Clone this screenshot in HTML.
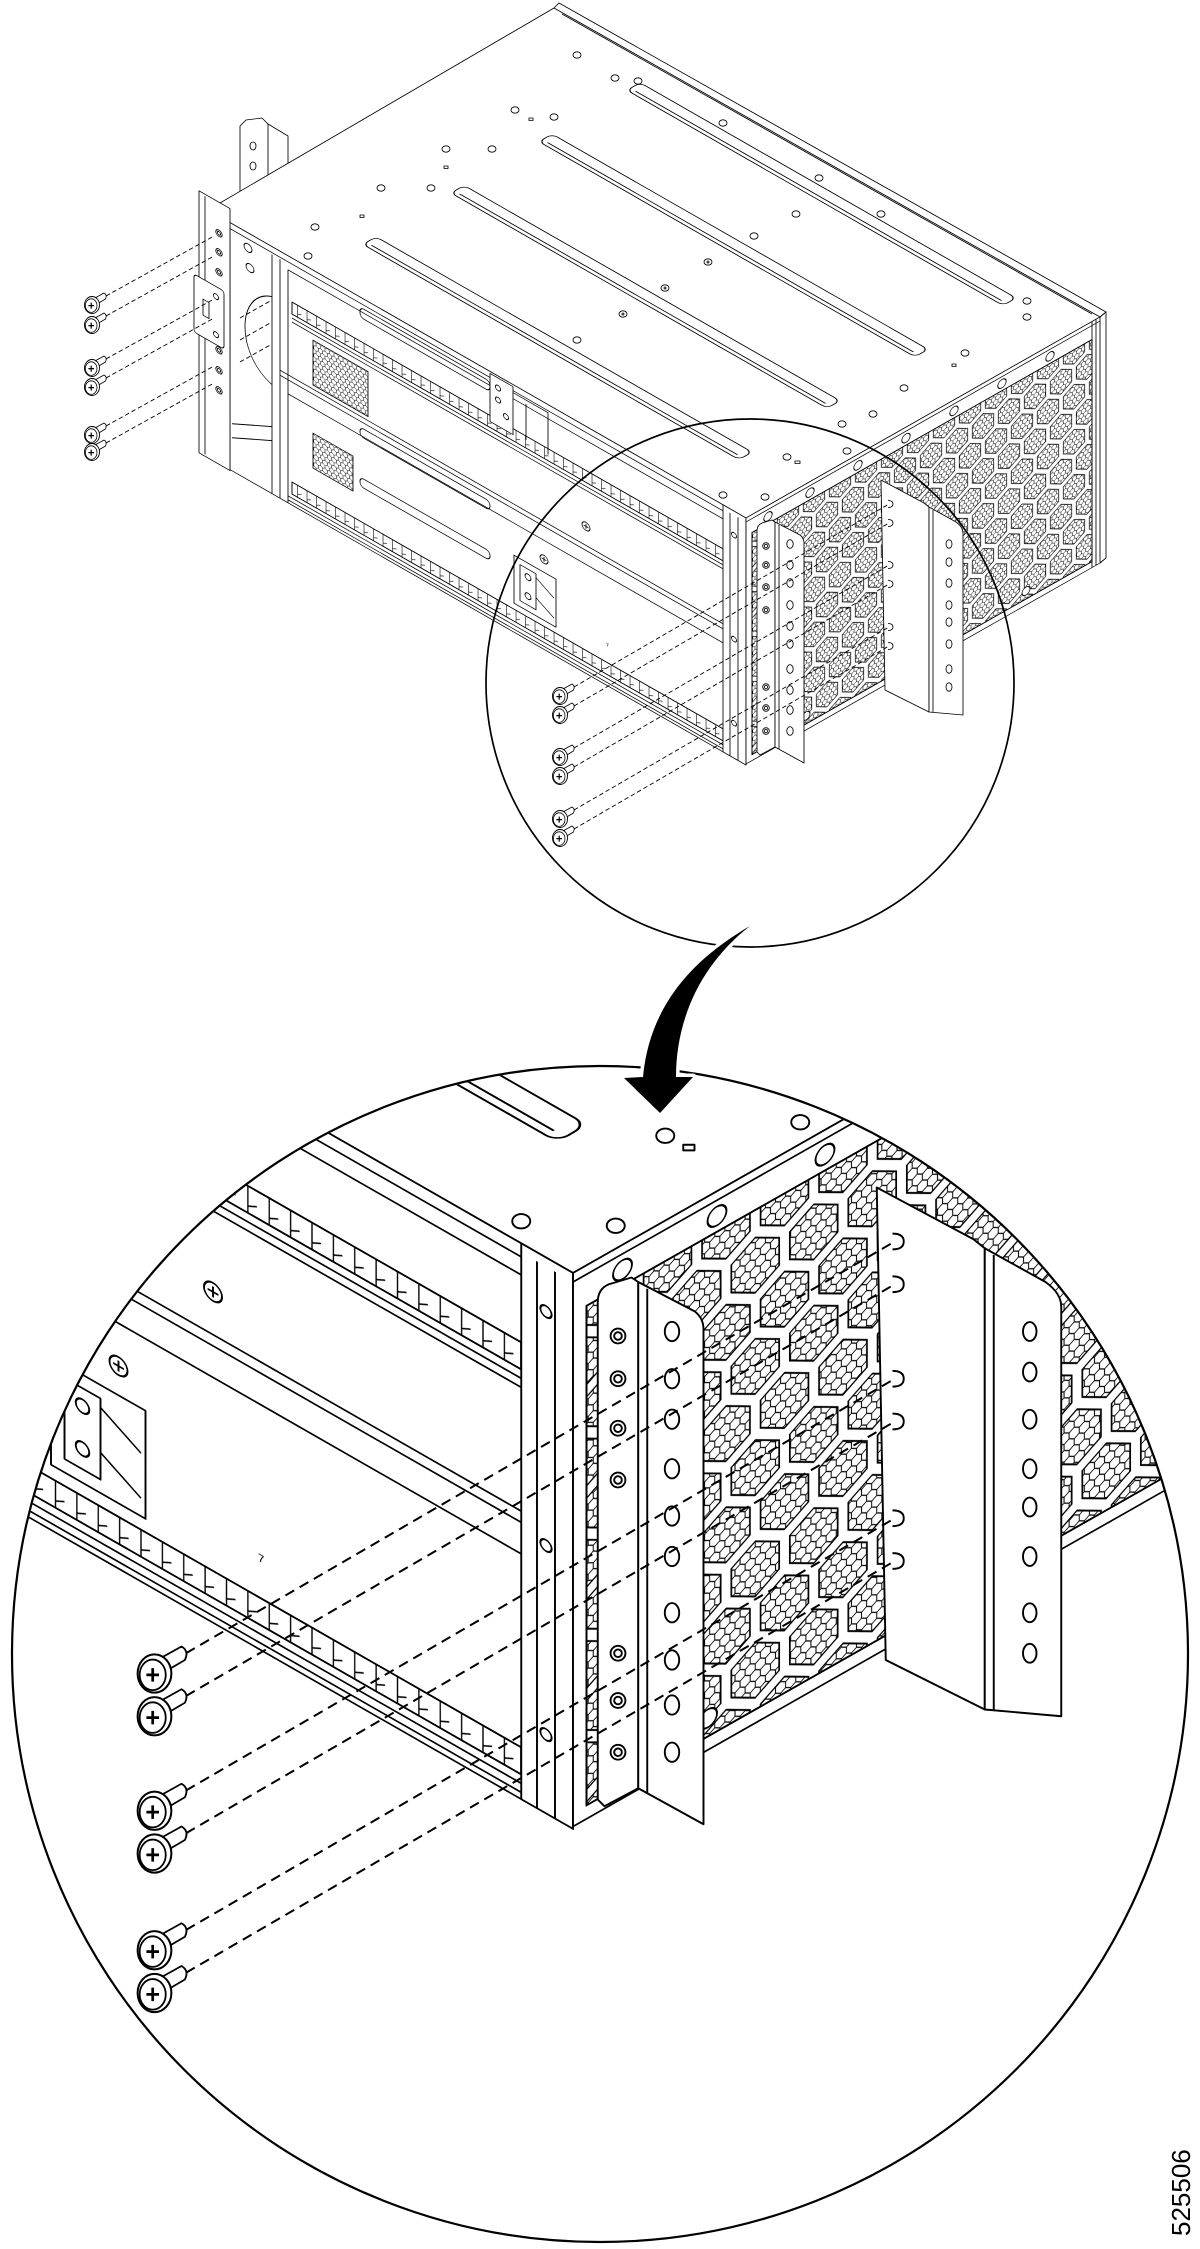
<!DOCTYPE html>
<html><head><meta charset="utf-8">
<style>html,body{margin:0;padding:0;background:#fff}svg{display:block}</style>
</head><body>
<svg xmlns="http://www.w3.org/2000/svg" xmlns:xlink="http://www.w3.org/1999/xlink" width="1200" height="2249" viewBox="0 0 1200 2249">
<defs>
  <pattern id="mesh" width="4.5" height="7.8" patternUnits="userSpaceOnUse">
    <path d="M0,1.3 L2.25,0 L4.5,1.3 L4.5,3.9 L2.25,5.2 L0,3.9 Z M2.25,5.2 L2.25,7.8" fill="none" stroke="#000" stroke-width="0.45"/>
  </pattern>
  <pattern id="frame" width="26" height="45" patternUnits="userSpaceOnUse" patternTransform="translate(3,5)">
    <path d="M0,7.5 L13,0 L26,7.5 L26,22.5 L13,30 L0,22.5 Z M13,30 L13,45 L0,52.5 M13,45 L26,52.5 M13,0 L13,-15 M0,7.5 L-13,0 M26,7.5 L39,0 M0,22.5 L-13,30 M26,22.5 L39,30" fill="none" stroke="#000" stroke-width="5.5" stroke-linejoin="round"/>
    <path d="M0,7.5 L13,0 L26,7.5 L26,22.5 L13,30 L0,22.5 Z M13,30 L13,45 L0,52.5 M13,45 L26,52.5 M13,0 L13,-15 M0,7.5 L-13,0 M26,7.5 L39,0 M0,22.5 L-13,30 M26,22.5 L39,30" fill="none" stroke="#fff" stroke-width="4" stroke-linejoin="round"/>
  </pattern>
  <pattern id="comb" width="9.5" height="12" patternUnits="userSpaceOnUse">
    <path d="M4,0 V12 M4,5 L8,3" stroke="#000" stroke-width="0.6" fill="none"/>
  </pattern>
  <clipPath id="bc"><circle cx="600" cy="1654" r="587"/></clipPath>

  <g id="scr">
    <path d="M3,-7 L12,-12 Q15.5,-10 13.5,-6 L5,-1 Z" fill="#fff" stroke="#000" stroke-width="0.8"/>
    <ellipse cx="0" cy="0" rx="7.5" ry="8.5" fill="#fff" stroke="#000" stroke-width="0.9"/>
    <ellipse cx="-0.8" cy="0.6" rx="5.8" ry="6.8" fill="#fff" stroke="#000" stroke-width="0.8"/>
    <path d="M-3.6,0.6 H2 M-0.8,-2.4 V3.6" stroke="#000" stroke-width="1.2" fill="none"/>
  </g>

  <g id="scene" fill="none" stroke="#000" stroke-width="0.85" stroke-linejoin="round">
    <!-- left rack ear back flange -->
    <path d="M240,126 L246,120 L262,118 L268,124 L268,205 L240,218 Z" fill="#fff"/>
    <path d="M268,124 L288,136 L288,196"/>
    <ellipse cx="253" cy="146" rx="3" ry="4"/>
    <ellipse cx="253" cy="166" rx="3" ry="4"/>

    <!-- top face -->
    <path d="M208,210 L554,8 L1100,317 L746,518 Z" fill="#fff"/>
    <path d="M554,8 L559,3 L1106,312 L1100,317"/>
    <path d="M562,14 L1092,314"/>
    <path d="M1100,317 L1106,312 L1106,558 L1100,563" fill="#fff"/>
    <g transform="matrix(1,0.5725,1,-0.5838,208,210)">
      <rect x="108" y="47" width="376" height="13" rx="5" fill="#fff"/>
      <path d="M113,50.5 H479"/>
      <rect x="108" y="135" width="376" height="13" rx="5" fill="#fff"/>
      <path d="M113,138.5 H479"/>
      <rect x="108" y="223" width="376" height="13" rx="5" fill="#fff"/>
      <path d="M113,226.5 H479"/>
      <rect x="108" y="311" width="376" height="13" rx="5" fill="#fff"/>
      <path d="M113,314.5 H479"/>
    </g>
    <g fill="#fff">
      <ellipse cx="577" cy="55" rx="4" ry="3.2"/><ellipse cx="615" cy="78" rx="4" ry="3.2"/>
      <ellipse cx="638" cy="81" rx="4" ry="3.2"/><ellipse cx="515" cy="110" rx="4" ry="3.2"/>
      <ellipse cx="554" cy="117" rx="4" ry="3.2"/><ellipse cx="446" cy="149" rx="4" ry="3.2"/>
      <ellipse cx="492" cy="149" rx="4" ry="3.2"/><ellipse cx="381" cy="188" rx="4" ry="3.2"/>
      <ellipse cx="431" cy="188" rx="4" ry="3.2"/><ellipse cx="315" cy="227" rx="4" ry="3.2"/>
      <ellipse cx="308" cy="256" rx="4" ry="3.2"/><ellipse cx="723" cy="123" rx="4" ry="3.2"/>
      <ellipse cx="819" cy="178" rx="4" ry="3.2"/><ellipse cx="881" cy="214" rx="4" ry="3.2"/>
      <ellipse cx="796" cy="214" rx="4" ry="3.2"/><ellipse cx="754" cy="236" rx="4" ry="3.2"/>
      <ellipse cx="708" cy="262" rx="4" ry="3.2"/><ellipse cx="665" cy="288" rx="4" ry="3.2"/>
      <ellipse cx="623" cy="314" rx="4" ry="3.2"/><ellipse cx="577" cy="340" rx="4" ry="3.2"/>
      <ellipse cx="1027" cy="301" rx="4" ry="3.2"/><ellipse cx="1027" cy="317" rx="4" ry="3.2"/>
      <ellipse cx="965" cy="353" rx="4" ry="3.2"/><ellipse cx="904" cy="388" rx="4" ry="3.2"/>
      <ellipse cx="873" cy="414" rx="4" ry="3.2"/><ellipse cx="842" cy="424" rx="4" ry="3.2"/>
      <ellipse cx="723" cy="495" rx="4" ry="3.2"/><ellipse cx="765" cy="497" rx="4" ry="3.2"/>
      <ellipse cx="787" cy="457" rx="4" ry="3.2"/><ellipse cx="847" cy="451" rx="4" ry="3.2"/>
      <circle cx="708" cy="262" r="1"/><circle cx="665" cy="288" r="1"/><circle cx="623" cy="314" r="1"/>
      <rect x="529" y="118" width="4" height="2.5"/><rect x="444" y="166" width="4" height="2.5"/>
      <rect x="360" y="215" width="4" height="2.5"/><rect x="952" y="364" width="4" height="2.5"/>
      <rect x="795" y="461" width="5" height="2.5"/>
    </g>

    <!-- front face -->
    <g transform="matrix(1,0.5725,0,1,208,210)">
      <rect x="0" y="0" width="538" height="247" fill="#fff"/>
      <path d="M22,6 H515 M80,14 H515"/>
      <path d="M22,6 V247 M64,8 V247 M72,8 V247 M80,14 V247"/>
      <path d="M64,50 C30,62 26,126 64,138"/>
      <circle cx="40" cy="15" r="4"/><circle cx="42" cy="34" r="4"/>
      <path d="M24,200 L64,180 M24,214 L64,194"/>
      <rect x="152" y="10" width="130" height="10" rx="4"/>
      <rect x="105" y="70" width="55" height="45" fill="url(#mesh)"/>
      <rect x="105" y="163" width="40" height="35" fill="url(#mesh)"/>
      <rect x="84" y="44" width="431" height="12" fill="url(#comb)"/>
      <rect x="84" y="44" width="431" height="12"/>
      <path d="M84,60 H515 M84,64 H515"/>
      <path d="M72,119 H515 M72,124 H515 M80,138 H515"/>
      <rect x="152" y="130" width="130" height="9" rx="4"/>
      <rect x="152" y="180" width="130" height="9" rx="4"/>
      <rect x="84" y="224" width="431" height="12" fill="url(#comb)"/>
      <rect x="84" y="224" width="431" height="12"/>
      <path d="M80,240 H515 M80,244 H515"/>
      <rect x="282" y="2" width="23" height="48" fill="#fff"/>
      <circle cx="290" cy="12" r="2.6"/><circle cx="290" cy="24" r="2.6"/><circle cx="298" cy="36" r="2.6"/>
      <path d="M305,8 H340 V50 M318,12 V48"/>
      <rect x="306" y="170" width="42" height="48" fill="#fff"/>
      <rect x="312" y="176" width="16" height="36"/>
      <circle cx="320" cy="184" r="3"/><circle cx="320" cy="203" r="3"/>
      <path d="M328,180 L346,190 M328,200 L346,210"/>
      <circle cx="378" cy="100" r="4"/><path d="M375.6,100 h4.8 M378,97.6 v4.8"/>
      <circle cx="336" cy="157" r="4"/><path d="M333.6,157 h4.8 M336,154.6 v4.8"/>
      <text x="398" y="208" font-family="Liberation Sans, sans-serif" font-size="5" fill="#000" stroke="none">7</text>
      <rect x="515" y="0" width="23" height="247" fill="#fff"/>
      <path d="M522,4 V247 M530,4 V247"/>
      <circle cx="526" cy="24" r="2.5"/><circle cx="526" cy="128" r="2.5"/><circle cx="526" cy="212" r="2.5"/>
      <!-- left ear -->
      <rect x="-9" y="-14" width="31" height="262" fill="#fff"/>
      <path d="M-3,-12 V246"/>
      <circle cx="11" cy="17" r="3.2"/><circle cx="11" cy="36" r="3.2"/><circle cx="11" cy="56" r="3.2"/>
      <circle cx="11" cy="134" r="3.2"/><circle cx="11" cy="154" r="3.2"/><circle cx="11" cy="174" r="3.2"/>
      <circle cx="11" cy="17" r="1.6"/><circle cx="11" cy="36" r="1.6"/><circle cx="11" cy="56" r="1.6"/>
      <circle cx="11" cy="134" r="1.6"/><circle cx="11" cy="154" r="1.6"/><circle cx="11" cy="174" r="1.6"/>
      <rect x="-14" y="72" width="30" height="58" rx="3" fill="#fff"/>
      <rect x="-5" y="92" width="6" height="16"/>
      <circle cx="8" cy="82" r="2.6"/><circle cx="8" cy="120" r="2.6"/>
    </g>

    <!-- fan face -->
    <g transform="matrix(1,-0.5678,0,1,746,518)">
      <rect x="0" y="0" width="354" height="246" fill="#fff"/>
      <rect x="6" y="18" width="340" height="222" fill="url(#mesh)"/>
      <rect x="6" y="18" width="340" height="222" fill="url(#frame)"/>
      <rect x="6" y="18" width="340" height="222"/>
      <path d="M0,4 H354 M346,0 V246 M350,0 V246"/>
      <g fill="#fff">
        <circle cx="22" cy="11" r="4.2"/><circle cx="64" cy="11" r="4.2"/><circle cx="112" cy="11" r="4.2"/>
        <circle cx="160" cy="11" r="4.2"/><circle cx="208" cy="11" r="4.2"/><circle cx="256" cy="11" r="4.2"/>
        <circle cx="304" cy="11" r="4.2"/>
        <circle cx="60" cy="232" r="4"/><circle cx="170" cy="232" r="4"/><circle cx="280" cy="232" r="4"/>
      </g>
    </g>

    <!-- bracket 2 -->
    <path d="M881,480 L924,503 L929,507 L929,712 L885,690 Z" fill="#fff"/>
    <path d="M929,507 L956,522 Q963,527 963,533 L963,715 L929,712 Z" fill="#fff"/>
    <path d="M933,510 V712"/>
    <g fill="#fff">
      <ellipse cx="949" cy="544" rx="3" ry="4.2"/><ellipse cx="949" cy="562" rx="3" ry="4.2"/>
      <ellipse cx="949" cy="583" rx="3" ry="4.2"/><ellipse cx="949" cy="605" rx="3" ry="4.2"/>
      <ellipse cx="949" cy="622" rx="3" ry="4.2"/><ellipse cx="949" cy="644" rx="3" ry="4.2"/>
      <ellipse cx="949" cy="669" rx="3" ry="4.2"/><ellipse cx="949" cy="687" rx="3" ry="4.2"/>
    </g>
    <!-- bracket 1 -->
    <path d="M757,531 Q757,525 762,523 L772,520 L775,522 L775,747 L760,755 L757,752 Z" fill="#fff"/>
    <path d="M775,522 L800,535 Q804,538 804,543 L804,763 L775,747 Z" fill="#fff"/>
    <path d="M779,525 V749"/>
    <g fill="#fff">
      <circle cx="766" cy="546" r="3.3"/><circle cx="766" cy="565" r="3.3"/><circle cx="766" cy="587" r="3.3"/>
      <circle cx="766" cy="610" r="3.3"/><circle cx="766" cy="687" r="3.3"/><circle cx="766" cy="708" r="3.3"/>
      <circle cx="766" cy="731" r="3.3"/>
      <circle cx="766" cy="546" r="1.7"/><circle cx="766" cy="565" r="1.7"/><circle cx="766" cy="587" r="1.7"/>
      <circle cx="766" cy="610" r="1.7"/><circle cx="766" cy="687" r="1.7"/><circle cx="766" cy="708" r="1.7"/>
      <circle cx="766" cy="731" r="1.7"/>
      <ellipse cx="790" cy="544" rx="3.2" ry="4.3"/><ellipse cx="790" cy="565" rx="3.2" ry="4.3"/>
      <ellipse cx="790" cy="583" rx="3.2" ry="4.3"/><ellipse cx="790" cy="605" rx="3.2" ry="4.3"/>
      <ellipse cx="790" cy="626" rx="3.2" ry="4.3"/><ellipse cx="790" cy="644" rx="3.2" ry="4.3"/>
      <ellipse cx="790" cy="669" rx="3.2" ry="4.3"/><ellipse cx="790" cy="690" rx="3.2" ry="4.3"/>
      <ellipse cx="790" cy="710" rx="3.2" ry="4.3"/><ellipse cx="790" cy="731" rx="3.2" ry="4.3"/>
    </g>

    <!-- target marks -->
    <path d="M888,500.5 q5,0 5,3.5 q0,3.5 -5,3.5 M888,519.5 q5,0 5,3.5 q0,3.5 -5,3.5 M888,561.5 q5,0 5,3.5 q0,3.5 -5,3.5 M888,580.5 q5,0 5,3.5 q0,3.5 -5,3.5 M888,623.5 q5,0 5,3.5 q0,3.5 -5,3.5 M888,642.5 q5,0 5,3.5 q0,3.5 -5,3.5"/>

    <!-- dashed guide lines -->
    <g stroke-dasharray="4.5 2.8" stroke-width="0.9">
      <path d="M574,687 L889,504 M574,706 L889,523 M574,748 L889,565 M574,767 L889,584 M574,810 L889,627 M574,829 L889,646"/>
      <path d="M106,296 L214,236 M106,316 L214,256 M106,359 L214,299 M106,378 L214,318 M106,426 L214,366 M106,443 L214,383"/>
      <path d="M240,318 L272,300 M240,340 L272,322 M240,362 L272,344"/>
    </g>

    <!-- screws -->
    <use xlink:href="#scr" href="#scr" x="560" y="696"/>
    <use xlink:href="#scr" href="#scr" x="560" y="715"/>
    <use xlink:href="#scr" href="#scr" x="560" y="757"/>
    <use xlink:href="#scr" href="#scr" x="560" y="776"/>
    <use xlink:href="#scr" href="#scr" x="560" y="819"/>
    <use xlink:href="#scr" href="#scr" x="560" y="838"/>
    <use xlink:href="#scr" href="#scr" x="92" y="305"/>
    <use xlink:href="#scr" href="#scr" x="92" y="325"/>
    <use xlink:href="#scr" href="#scr" x="92" y="368"/>
    <use xlink:href="#scr" href="#scr" x="92" y="387"/>
    <use xlink:href="#scr" href="#scr" x="92" y="435"/>
    <use xlink:href="#scr" href="#scr" x="92" y="452"/>
  </g>
</defs>

<rect x="0" y="0" width="1200" height="2249" fill="#fff"/>

<!-- top drawing -->
<use xlink:href="#scene" href="#scene"/>

<!-- magnified view -->
<g clip-path="url(#bc)">
  <use xlink:href="#scene" href="#scene" transform="matrix(2.25,0,0,2.25,-1105.5,107.5)"/>
</g>

<!-- circles -->
<circle cx="750" cy="683" r="264" fill="none" stroke="#000" stroke-width="1.7"/>
<circle cx="600" cy="1654" r="588" fill="none" stroke="#000" stroke-width="2.2"/>

<!-- arrow -->
<path d="M750,926 C700,955 650,1000 643,1077 L624,1078 L660,1113 L693,1077 L676,1077 C676,1020 700,965 750,926 Z" fill="#000" stroke="#fff" stroke-width="7" stroke-linejoin="round" paint-order="stroke"/>

<!-- figure number -->
<text transform="translate(1190,2236) rotate(-90)" font-family="Liberation Sans, sans-serif" font-size="26" fill="#000">525506</text>
</svg>
</body></html>
